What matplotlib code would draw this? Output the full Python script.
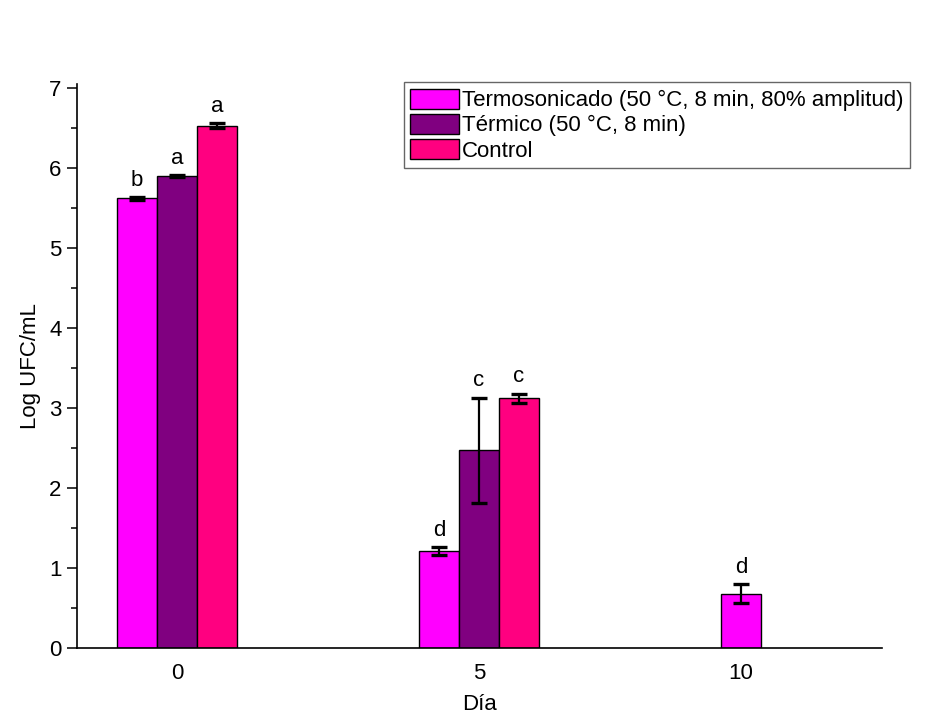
import numpy as np
import matplotlib
matplotlib.use("Agg")
import matplotlib.pyplot as plt

plt.rcParams['font.family'] = ['Liberation Sans', 'DejaVu Sans']

days = [0, 5, 10]
day_labels = ["0", "5", "10"]
series = ["Termosonicado (50 °C, 8 min, 80% amplitud)", "Térmico (50 °C, 8 min)", "Control"]
colors = ["#FF00FF", "#800080", "#FF0080"]

termo_vals = [5.62, 1.21, 0.68]
termo_err = [0.02, 0.05, 0.12]
termo_let = ["b", "d", "d"]

termico_vals = [5.90, 2.47, None]
termico_err = [0.01, 0.66, None]
termico_let = ["a", "c", None]

control_vals = [6.53, 3.12, None]
control_err = [0.035, 0.06, None]
control_let = ["a", "c", None]

vals = [termo_vals, termico_vals, control_vals]
errs = [termo_err, termico_err, control_err]
lets = [termo_let, termico_let, control_let]

FS = 16

fig = plt.figure(figsize=(9.41, 7.27), dpi=100)
ax = fig.add_axes([77/941, 1-648/727, (882-77)/941, (648-84)/727])

width = 0.662
offsets = [-width, 0, width]
tick_pos = []
for j, d in enumerate(days):
    present = [i for i in range(3) if vals[i][j] is not None]
    tick_pos.append(d + np.mean([offsets[i] for i in present]))

for i in range(3):
    xs, ys, es, ls = [], [], [], []
    for j, d in enumerate(days):
        if vals[i][j] is None:
            continue
        xs.append(d + offsets[i])
        ys.append(vals[i][j])
        es.append(errs[i][j])
        ls.append(lets[i][j])
    ax.bar(xs, ys, width=width, color=colors[i], edgecolor='black', linewidth=1.0,
           label=series[i], zorder=2)
    ax.errorbar(xs, ys, yerr=es, fmt='none', ecolor='black', elinewidth=1.6,
                capsize=5.5, capthick=2.4, zorder=3)
    for x, y, e, l in zip(xs, ys, es, ls):
        ax.annotate(l, (x, y + e), xytext=(0, 8), textcoords='offset points',
                    ha='center', va='baseline', fontsize=FS)

ax.set_xlim(-1.656, 11.67)
ax.set_ylim(0, 7.05)
ax.set_xticks(tick_pos)
ax.set_xticklabels(day_labels, fontsize=FS)
ax.set_yticks(np.arange(0, 8, 1))
ax.set_yticks(np.arange(0.5, 7, 1), minor=True)
ax.tick_params(axis='y', which='major', length=7, width=1.1, labelsize=FS, direction='out', pad=4)
ax.tick_params(axis='y', which='minor', length=4, width=1.1, direction='out')
ax.tick_params(axis='x', which='both', length=0, pad=11)
for s in ['top', 'right']:
    ax.spines[s].set_visible(False)
for s in ['left', 'bottom']:
    ax.spines[s].set_linewidth(1.2)

ax.set_xlabel("Día", fontsize=FS, labelpad=7)
ax.set_ylabel("Log UFC/mL", fontsize=FS, labelpad=6)

leg = ax.legend(loc='upper right', bbox_to_anchor=(910/941, 1-82/727),
                bbox_transform=fig.transFigure, fontsize=FS, frameon=True,
                fancybox=False, edgecolor='#404040', handlelength=2.2, handleheight=1.0,
                labelspacing=0.12, handletextpad=0.12, borderpad=0.3, borderaxespad=0)
leg.get_frame().set_linewidth(1.0)

fig.savefig("out.png", dpi=100, facecolor='white')
